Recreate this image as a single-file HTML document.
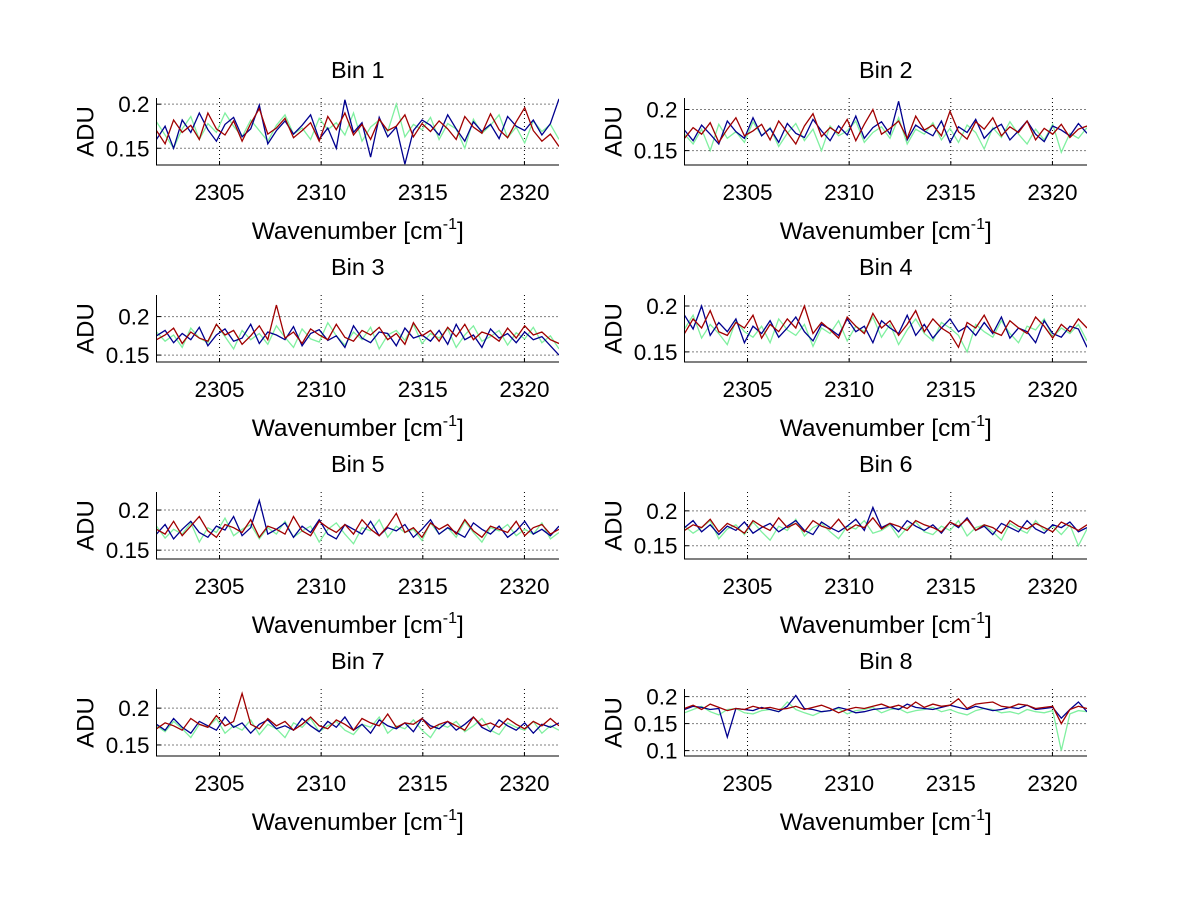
<!DOCTYPE html>
<html><head><meta charset="utf-8"><style>
html,body{margin:0;padding:0;background:#fff;}
svg{display:block;font-family:"Liberation Sans",Arial,sans-serif;}
</style></head><body>
<svg id="fig" width="1200" height="901" viewBox="0 0 1200 901" xmlns="http://www.w3.org/2000/svg"></svg>
<script>
// Wavenumber axis
const wnStart = 2301.9;
const wnEnd = 2321.7;
const xTicks = [2305, 2310, 2315, 2320];
const binTitles = ["Bin 1","Bin 2","Bin 3","Bin 4","Bin 5","Bin 6","Bin 7","Bin 8"];
const yLims = [[0.131,0.207],[0.1325,0.214],[0.141,0.228],[0.139,0.212],[0.139,0.2225],[0.131,0.227],[0.135,0.226],[0.09,0.214]];
const yTicks = [[0.15,0.2],[0.15,0.2],[0.15,0.2],[0.15,0.2],[0.15,0.2],[0.15,0.2],[0.15,0.2],[0.1,0.15,0.2]];
const yTickLabels = [["0.15","0.2"],["0.15","0.2"],["0.15","0.2"],["0.15","0.2"],["0.15","0.2"],["0.15","0.2"],["0.15","0.2"],["0.1","0.15","0.2"]];
// ADU values (x1000), per bin: green, blue, red
const b1Green=[180,165,150,172,186,160,178,168,190,175,163,182,170,158,176,188,166,173,160,184,171,179,165,190,158,174,182,169,200,163,177,171,185,160,178,172,150,183,167,176,188,162,174,156,181,169,177,160];
const b1Blue=[160,175,150,182,168,190,171,158,177,185,163,172,199,155,170,181,166,176,188,160,173,150,205,168,179,140,185,163,174,132,170,182,176,165,188,172,158,180,169,177,161,186,175,170,182,165,178,206];
const b1Red=[170,155,182,168,176,160,190,172,165,181,158,178,195,166,173,184,162,170,179,158,186,171,190,165,177,160,183,170,175,188,163,178,169,181,172,160,186,174,167,189,171,162,180,196,170,158,166,152];
const b2Green=[170,158,176,150,182,165,173,160,185,168,178,155,171,183,162,176,150,180,168,174,186,160,172,179,165,190,158,176,170,184,163,177,160,181,172,152,178,166,185,170,158,176,163,182,148,171,165,178];
const b2Blue=[175,162,181,170,158,186,173,165,190,168,177,160,183,171,166,188,174,162,180,169,192,165,178,185,170,210,163,181,174,168,186,160,179,172,188,165,176,182,163,174,186,170,161,180,175,168,183,171];
const b2Red=[165,178,170,184,160,176,190,168,174,182,163,186,172,158,180,195,167,178,171,188,162,182,200,170,177,186,165,192,175,181,168,198,173,164,185,176,190,168,179,172,186,163,177,170,182,166,176,180];
const b3Green=[180,168,176,160,185,172,166,190,174,158,182,170,178,164,188,173,160,184,171,167,192,175,163,180,170,186,158,176,182,169,190,165,178,172,184,160,176,188,168,174,182,163,179,171,186,166,175,158];
const b3Blue=[175,182,166,178,170,186,162,176,184,168,172,190,165,180,176,170,187,162,178,183,169,175,160,188,172,166,180,178,162,185,172,176,168,182,164,190,170,176,160,184,172,178,166,180,170,174,162,150];
const b3Red=[170,176,185,165,180,172,168,190,176,182,164,175,188,170,215,172,180,165,184,176,170,190,173,168,182,176,186,170,178,164,192,175,182,168,186,174,190,170,180,176,168,185,172,188,176,180,170,165];
const b4Green=[175,190,165,180,170,158,184,172,166,178,160,186,174,168,180,156,176,170,184,162,178,172,188,166,180,158,174,186,170,162,182,176,168,150,180,172,166,184,170,160,178,174,186,166,176,170,180,162];
const b4Blue=[190,175,200,168,182,172,186,160,178,170,184,166,176,188,172,162,180,175,168,186,172,178,160,184,176,170,190,168,180,165,176,186,172,178,168,182,170,188,165,176,172,160,184,170,166,178,175,155];
const b4Red=[170,186,176,195,172,168,182,176,190,165,180,172,186,176,200,170,182,174,165,188,178,170,192,176,184,168,180,195,172,186,176,170,155,182,176,190,172,168,184,176,170,188,178,165,180,172,186,176];
const b5Green=[180,165,176,170,184,160,178,172,190,168,176,182,164,178,170,186,166,174,180,160,176,184,170,158,178,174,188,166,180,172,176,162,184,170,178,166,186,172,160,178,174,182,168,176,170,184,164,172];
const b5Blue=[170,182,164,176,186,172,166,180,175,192,168,178,212,170,176,184,166,180,172,188,170,164,182,176,170,186,168,178,174,182,166,176,188,170,178,172,166,184,176,170,180,166,174,186,170,176,168,180];
const b5Red=[176,170,186,168,180,192,174,166,182,178,172,188,166,180,176,170,192,174,168,186,178,172,182,170,188,176,168,180,196,172,178,166,184,176,182,170,188,174,166,180,176,172,186,168,178,182,170,176];
const b6Green=[178,168,176,186,160,174,180,166,184,170,158,178,172,188,164,176,182,170,160,178,174,186,168,172,180,162,176,184,170,166,178,172,186,164,176,180,170,158,182,174,168,186,172,178,166,180,150,174];
const b6Blue=[176,186,170,180,166,178,172,184,168,176,182,170,178,186,172,166,184,176,170,178,188,172,205,176,182,170,186,178,172,180,168,184,176,190,172,178,166,182,176,170,186,174,168,180,176,184,170,176];
const b6Red=[172,180,176,188,170,182,176,168,186,178,172,190,176,182,170,186,178,174,188,172,180,176,190,174,182,178,172,186,180,176,170,184,178,188,172,180,176,168,186,178,174,182,176,170,184,178,172,180];
const b7Green=[176,168,182,172,160,178,174,186,166,176,170,184,164,178,172,160,180,174,186,168,176,182,170,164,178,174,188,166,176,172,184,170,160,178,174,182,168,176,186,170,164,180,174,170,182,166,176,170];
const b7Blue=[178,170,186,174,166,182,176,170,188,174,180,166,178,184,172,176,170,186,176,168,182,174,188,170,178,166,184,176,172,180,168,186,176,172,182,170,178,188,174,168,184,176,170,180,166,178,174,180];
const b7Red=[172,180,176,170,186,178,174,190,176,182,220,178,172,186,176,182,170,178,188,176,172,184,178,170,186,180,176,192,174,180,178,186,172,178,182,176,170,188,176,180,174,186,178,172,182,176,186,176];
const b8Green=[170,176,182,172,166,176,178,170,168,174,176,172,190,176,170,165,172,174,178,168,174,176,180,170,176,178,170,174,176,180,172,176,170,166,174,178,176,170,172,168,176,172,170,174,100,168,174,172];
const b8Blue=[176,182,180,176,178,125,178,176,174,180,176,172,182,202,178,176,172,174,180,176,170,172,176,178,180,176,186,180,178,176,180,184,180,176,182,178,174,176,180,178,184,176,178,180,160,176,190,172];
const b8Red=[178,184,176,186,180,174,178,176,182,178,180,176,178,182,176,180,184,178,170,176,180,178,182,186,180,184,178,190,180,186,182,184,196,178,186,188,190,182,180,186,184,178,180,182,150,176,182,178];
const greenSeries=[b1Green,b2Green,b3Green,b4Green,b5Green,b6Green,b7Green,b8Green];
const blueSeries=[b1Blue,b2Blue,b3Blue,b4Blue,b5Blue,b6Blue,b7Blue,b8Blue];
const redSeries=[b1Red,b2Red,b3Red,b4Red,b5Red,b6Red,b7Red,b8Red];

const NS="http://www.w3.org/2000/svg";
const svg=document.getElementById('fig');
function mk(tag,attrs,parent){const e=document.createElementNS(NS,tag);for(const k in attrs)e.setAttribute(k,attrs[k]);(parent||svg).appendChild(e);return e;}
const colLeft=[156.5,684.5], colRight=[559,1087];
const rowTop=[98,295,492,689], rowBot=[165,362,559,756];

for(let b=0;b<8;b++){
  const col=b%2,row=Math.floor(b/2);
  const L=colLeft[col],R=colRight[col],T=rowTop[row],B=rowBot[row];
  const g=mk('g',{});
  
  
  const xs=v=>L+(v-wnStart)/(wnEnd-wnStart)*(R-L);
  const ys=v=>B-(v-yLims[b][0])/(yLims[b][1]-yLims[b][0])*(B-T);
  xTicks.forEach(t=>{const l=mk('line',{x1:xs(t),x2:xs(t),y1:T,y2:B,stroke:'#000','stroke-width':1,'stroke-dasharray':'1,3'},g);
    });
  yTicks[b].forEach(t=>{const l=mk('line',{x1:L,x2:R,y1:ys(t),y2:ys(t),stroke:'#000','stroke-width':1,'stroke-dasharray':'1,3'},g);
    });
  const defs=[[greenSeries[b],'#80f0a0','series-green'],[blueSeries[b],'#00008f','series-blue'],[redSeries[b],'#a00000','series-red']];
  const clipId='clip'+b;
  const cp=mk('clipPath',{id:clipId},g);mk('rect',{x:L,y:T,width:R-L,height:B-T},cp);
  defs.forEach(([arr,color,name])=>{
    const n=arr.length;
    const pts=arr.map((v,i)=>xs(wnStart+i*(wnEnd-wnStart)/(n-1)).toFixed(1)+','+ys(v/1000).toFixed(1)).join(' ');
    const p=mk('polyline',{points:pts,fill:'none',stroke:color,'stroke-width':1.3,'clip-path':'url(#'+clipId+')'},g);
    
    
  });
  const ax=mk('path',{d:`M${L},${T} L${L},${B} L${R},${B}`,fill:'none',stroke:'#000','stroke-width':1},g);
  
  xTicks.forEach(t=>{mk('line',{x1:xs(t),x2:xs(t),y1:B,y2:B-4,stroke:'#000'},g);
    const tx=mk('text',{x:xs(t),y:B+35,'text-anchor':'middle','font-size':22.5},g);tx.textContent=t;
    });
  yTicks[b].forEach((t,i)=>{mk('line',{x1:L,x2:L+4,y1:ys(t),y2:ys(t),stroke:'#000'},g);
    const tx=mk('text',{x:L-7,y:ys(t)+8,'text-anchor':'end','font-size':22.5},g);tx.textContent=yTickLabels[b][i];
    });
  const ti=mk('text',{x:(L+R)/2,y:T-20,'text-anchor':'middle','font-size':23.5},g);ti.textContent=binTitles[b];
  
  const xl=mk('text',{x:(L+R)/2,y:B+74,'text-anchor':'middle','font-size':24.5},g);
  xl.innerHTML='Wavenumber [cm<tspan dy="-10" font-size="16">-1</tspan><tspan dy="10">]</tspan>';
  
  const yl=mk('text',{x:0,y:0,'text-anchor':'middle','font-size':24,transform:`translate(${L-63},${(T+B)/2}) rotate(-90)`},g);yl.textContent='ADU';
  
}
</script>
</body></html>
